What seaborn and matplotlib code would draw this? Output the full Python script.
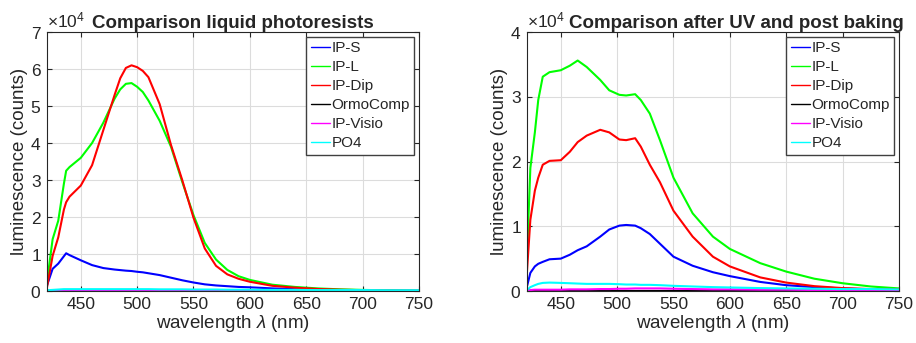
import numpy as np
import pandas as pd
import matplotlib
matplotlib.use('Agg')
import matplotlib.pyplot as plt
import seaborn as sns
from matplotlib.ticker import ScalarFormatter

# ------------------------------------------------------------
# data (counts)
# ------------------------------------------------------------
series_names = ['IP-S', 'IP-L', 'IP-Dip', 'OrmoComp', 'IP-Visio', 'PO4']
series_colors = ['#0000ff', '#00ff00', '#ff0000', '#000000', '#ff00ff', '#00ffff']

# liquid photoresists
wl_liquid = [420, 425, 430, 435, 437, 440, 450, 460, 470, 480, 485, 490, 495, 500,
             505, 510, 520, 530, 540, 550, 560, 570, 580, 590, 600, 620, 640, 660,
             680, 700, 725, 750]
ips_liquid = [1500, 6000, 7400, 9400, 10200, 9700, 8300, 7000, 6200, 5800, 5650, 5500, 5400, 5200,
              5050, 4800, 4300, 3600, 2900, 2300, 1800, 1500, 1300, 1100, 1000, 700, 500, 350,
              250, 180, 120, 80]
ipl_liquid = [2500, 14000, 19000, 29000, 32500, 33500, 36000, 40000, 45500, 52000, 54500, 56000, 56200, 55200,
              53800, 51500, 46000, 39000, 29500, 20500, 13000, 8500, 5700, 4000, 3000, 1700, 1100, 700,
              450, 300, 150, 80]
ipdip_liquid = [1000, 9500, 14500, 22000, 24000, 25500, 28500, 34000, 43500, 53000, 57500, 60300, 61000, 60500,
                59500, 57800, 50500, 39500, 30000, 19800, 11500, 6800, 4500, 3300, 2500, 1400, 900, 550,
                350, 220, 120, 60]
ormo_liquid = [0] * len(wl_liquid)
visio_liquid = [100] * len(wl_liquid)
po4_liquid = [200, 300, 400, 500, 500, 500, 500, 500, 500, 500, 500, 500, 500, 500,
              500, 500, 450, 450, 450, 400, 400, 400, 350, 350, 350, 300, 300, 250,
              250, 250, 200, 200]

# after UV and post baking
wl_baked = [420, 423, 427, 430, 434, 440, 450, 458, 465, 473, 485, 493, 502,
            508, 516, 521, 529, 538, 550, 567, 585, 600, 627, 650, 675, 700,
            725, 750]
ips_baked = [700, 2800, 3800, 4200, 4500, 4900, 5000, 5600, 6300, 6900, 8400, 9500, 10100,
             10200, 10100, 9700, 8800, 7300, 5300, 3900, 2900, 2300, 1400, 900, 600, 400,
             250, 150]
ipl_baked = [5300, 19000, 24500, 29500, 33100, 33800, 34100, 34800, 35600, 34600, 32600, 31000, 30300,
             30200, 30400, 29500, 27400, 23300, 17500, 12000, 8400, 6500, 4300, 3000, 1900, 1200,
             700, 400]
ipdip_baked = [3000, 11000, 15500, 17500, 19500, 20100, 20200, 21500, 23000, 24000, 24900, 24500, 23400,
               23300, 23600, 22300, 19500, 16800, 12400, 8400, 5300, 3800, 2100, 1300, 750, 450,
               300, 250]
ormo_baked = [0] * len(wl_baked)
visio_baked = [100, 150, 200, 200, 200, 200, 200, 250, 250, 250, 300, 300, 350,
               350, 400, 400, 400, 400, 350, 300, 250, 250, 200, 200, 150, 150,
               150, 150]
po4_baked = [150, 600, 900, 1100, 1250, 1300, 1250, 1200, 1150, 1100, 1100, 1100, 1050,
             1000, 1000, 950, 950, 900, 800, 700, 600, 550, 450, 400, 350, 300,
             300, 250]


def to_long(wl, columns):
    frames = []
    for name, vals in zip(series_names, columns):
        frames.append(pd.DataFrame({'wavelength': wl, 'counts': vals, 'sample': name}))
    return pd.concat(frames, ignore_index=True)


df_liquid = to_long(wl_liquid, [ips_liquid, ipl_liquid, ipdip_liquid, ormo_liquid, visio_liquid, po4_liquid])
df_baked = to_long(wl_baked, [ips_baked, ipl_baked, ipdip_baked, ormo_baked, visio_baked, po4_baked])

# ------------------------------------------------------------
# style (MATLAB-like)
# ------------------------------------------------------------
sns.set_theme(style='ticks')
plt.rcParams['font.family'] = ['Liberation Sans', 'DejaVu Sans']
plt.rcParams['mathtext.fontset'] = 'custom'
plt.rcParams['mathtext.rm'] = 'Liberation Sans'
plt.rcParams['mathtext.it'] = 'Liberation Sans:italic'

axis_gray = '#262626'

fig = plt.figure(figsize=(9.16, 3.43), dpi=100)
ax_l = fig.add_axes([0.0513, 0.1516, 0.406, 0.755])
ax_r = fig.add_axes([0.5753, 0.1516, 0.406, 0.755])


def draw_panel(ax, df, title, ymax, title_x):
    sns.lineplot(data=df, x='wavelength', y='counts', hue='sample',
                 hue_order=series_names, palette=series_colors,
                 linewidth=1.5, ax=ax, sort=False)
    ax.set_xlim(420, 750)
    ax.set_ylim(0, ymax * 1e4)
    ax.set_xticks(np.arange(450, 751, 50))
    ax.set_yticks(np.arange(0, ymax + 1) * 1e4)
    fmt = ScalarFormatter(useMathText=True)
    fmt.set_powerlimits((0, 0))
    ax.yaxis.set_major_formatter(fmt)
    ax.yaxis.get_offset_text().set_fontsize(12.5)
    ax.yaxis.get_offset_text().set_color(axis_gray)

    ax.grid(True, color='#dcdcdc', linewidth=0.8)
    ax.tick_params(direction='in', length=3.5, width=0.8, colors=axis_gray,
                   labelsize=12.5, top=True, right=True, pad=4)
    for sp in ax.spines.values():
        sp.set_color(axis_gray)
        sp.set_linewidth(0.8)

    ax.set_xlabel(r'wavelength $\lambda$ (nm)', fontsize=13.5, color=axis_gray, labelpad=1)
    ax.set_ylabel('luminescence (counts)', fontsize=13.5, color=axis_gray, labelpad=2)
    ax.set_title(title, fontsize=13.5, fontweight='bold', x=title_x, pad=3)

    leg = ax.legend(loc='upper right', fontsize=11, handlelength=1.25,
                    handletextpad=0.1, labelspacing=0.33, borderpad=0.3,
                    borderaxespad=0.3, fancybox=False, framealpha=1)
    leg.get_frame().set_edgecolor('#404040')
    leg.get_frame().set_linewidth(1.0)
    for line in leg.get_lines():
        line.set_linewidth(1.0)


draw_panel(ax_l, df_liquid, 'Comparison liquid photoresists', 7, 0.5)
draw_panel(ax_r, df_baked, 'Comparison after UV and post baking', 4, 0.562)

fig.savefig('out.png', dpi=100)
plt.close(fig)
